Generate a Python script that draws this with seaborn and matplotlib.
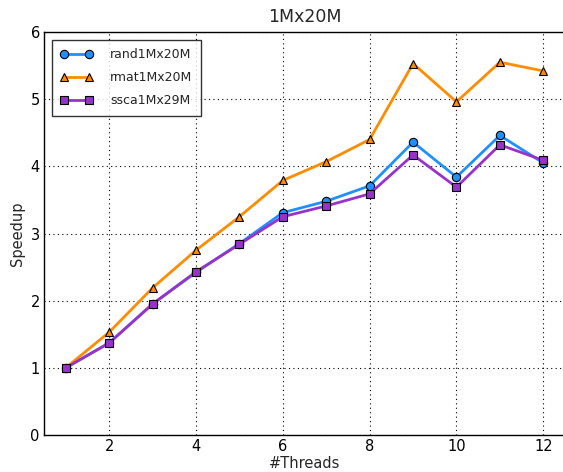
import matplotlib
matplotlib.use("Agg")
import matplotlib.pyplot as plt
import seaborn as sns
import pandas as pd

threads = [1, 2, 3, 4, 5, 6, 7, 8, 9, 10, 11, 12]
rand1 = [1.0, 1.37, 1.95, 2.42, 2.85, 3.31, 3.48, 3.71, 4.36, 3.84, 4.46, 4.05]
rmat1 = [1.0, 1.53, 2.19, 2.75, 3.25, 3.79, 4.07, 4.40, 5.53, 4.96, 5.55, 5.42]
ssca1 = [1.0, 1.37, 1.95, 2.43, 2.84, 3.25, 3.41, 3.59, 4.17, 3.69, 4.32, 4.09]
series_names = ["rand1Mx20M", "rmat1Mx20M", "ssca1Mx29M"]

sns.set_style("white")
plt.rcParams['font.family'] = ['DejaVu Sans']

df = pd.DataFrame({
    "threads": threads * 3,
    "speedup": rand1 + rmat1 + ssca1,
    "series": [series_names[0]] * 12 + [series_names[1]] * 12 + [series_names[2]] * 12,
})

fig = plt.figure(figsize=(5.63, 4.72), dpi=100)
ax = fig.add_axes([44 / 563, 1 - 435 / 472, (565 - 44) / 563, (435 - 32) / 472])

palette = {series_names[0]: "#1E90FF", series_names[1]: "#FF8C00", series_names[2]: "#9932CC"}
markers = {series_names[0]: "o", series_names[1]: "^", series_names[2]: "s"}
sns.lineplot(data=df, x="threads", y="speedup", hue="series", style="series",
             palette=palette, markers=markers, dashes=False, linewidth=2,
             markersize=6, markeredgecolor="black", markeredgewidth=0.8, ax=ax)

ax.set_xlim(0.5, 12.5)
ax.set_ylim(0, 6)
ax.set_xticks([2, 4, 6, 8, 10, 12])
ax.set_yticks([0, 1, 2, 3, 4, 5, 6])
ax.grid(True, linestyle=(0, (1, 3)), color="black", linewidth=0.8)
ax.tick_params(direction="in", length=4, labelsize=10.5, colors="black", pad=3)
for s in ax.spines.values():
    s.set_color("black")
    s.set_linewidth(1)
ax.set_xlabel("#Threads", fontsize=10.5, labelpad=1)
ax.set_ylabel("Speedup", fontsize=10.5, labelpad=4)
ax.set_title("1Mx20M", fontsize=12.5, pad=7)
leg = ax.legend(loc="upper left", fontsize=9, frameon=True, fancybox=False,
                edgecolor="black", borderpad=0.7, labelspacing=0.8, handlelength=2.6,
                numpoints=2, handletextpad=1.4, borderaxespad=0.6)
leg.get_frame().set_linewidth(1)
for h in leg.legend_handles:
    h.set_linewidth(2)
    h.set_markeredgecolor("black")
fig.savefig("out.png", dpi=100)
